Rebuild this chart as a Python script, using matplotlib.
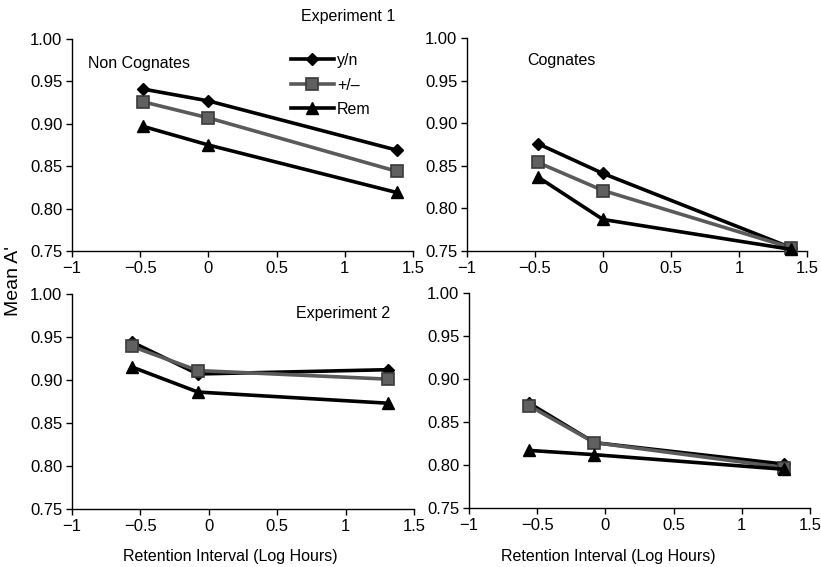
import matplotlib
matplotlib.use("Agg")
import matplotlib.pyplot as plt

plt.rcParams['font.family'] = ['Liberation Sans', 'DejaVu Sans']

# Experiment 1
x_exp1 = [-0.48, 0.0, 1.38]
noncog1_yn = [0.941, 0.927, 0.869]
noncog1_pm = [0.926, 0.907, 0.844]
noncog1_rem = [0.897, 0.875, 0.819]
cog1_yn = [0.876, 0.841, 0.754]
cog1_pm = [0.854, 0.821, 0.754]
cog1_rem = [0.837, 0.787, 0.752]

# Experiment 2
x_exp2 = [-0.56, -0.08, 1.31]
noncog2_yn = [0.944, 0.907, 0.912]
noncog2_pm = [0.939, 0.911, 0.901]
noncog2_rem = [0.915, 0.886, 0.873]
cog2_yn = [0.872, 0.826, 0.801]
cog2_pm = [0.869, 0.826, 0.797]
cog2_rem = [0.817, 0.812, 0.795]

xticks = [-1, -0.5, 0, 0.5, 1, 1.5]
xticklabels = ['\u22121', '\u22120.5', '0', '0.5', '1', '1.5']
yticks = [0.75, 0.80, 0.85, 0.90, 0.95, 1.00]

fig = plt.figure(figsize=(8.21, 5.67), dpi=100)
W, H = 821, 567

def make_ax(l, r, t, b):
    return fig.add_axes([l / W, 1 - b / H, (r - l) / W, (b - t) / H])

ax_tl = make_ax(72, 413, 39, 251)
ax_tr = make_ax(467, 807, 38, 251)
ax_bl = make_ax(72, 414, 294, 509)
ax_br = make_ax(469, 810, 293, 508)

def draw(ax, x, yn, pm, rem):
    ax.plot(x, yn, '-', color='black', lw=2.6, marker='D', ms=6.5,
            mfc='black', mec='black', label='y/n', zorder=3)
    ax.plot(x, pm, '-', color='#5a5a5a', lw=2.6, marker='s', ms=9,
            mfc='#606060', mec='#3a3a3a', mew=1.2, label='+/\u2013', zorder=3)
    ax.plot(x, rem, '-', color='black', lw=2.6, marker='^', ms=8,
            mfc='black', mec='black', label='Rem', zorder=3)
    ax.set_xlim(-1, 1.5)
    ax.set_ylim(0.75, 1.00)
    ax.set_xticks(xticks)
    ax.set_xticklabels(xticklabels)
    ax.set_yticks(yticks)
    ax.set_yticklabels(['%.2f' % v for v in yticks])
    for s in ['top', 'right']:
        ax.spines[s].set_visible(False)
    for s in ['left', 'bottom']:
        ax.spines[s].set_linewidth(1.0)
    ax.tick_params(labelsize=12, length=4, width=1, pad=3)
    for ln in ax.lines:
        ln.set_clip_on(False)

draw(ax_tl, x_exp1, noncog1_yn, noncog1_pm, noncog1_rem)
draw(ax_tr, x_exp1, cog1_yn, cog1_pm, cog1_rem)
draw(ax_bl, x_exp2, noncog2_yn, noncog2_pm, noncog2_rem)
draw(ax_br, x_exp2, cog2_yn, cog2_pm, cog2_rem)

ax_tl.text(-0.88, 0.971, 'Non Cognates', fontsize=11.5, va='center')
ax_tr.text(-0.56, 0.974, 'Cognates', fontsize=11.5, va='center')
ax_bl.text(0.64, 0.977, 'Experiment 2', fontsize=11.5, va='center')

leg = ax_tl.legend(loc='center left', bbox_to_anchor=(0.623, 0.783), frameon=False,
                   fontsize=11.5, handlelength=2.7, labelspacing=0.6,
                   handletextpad=0.2, borderaxespad=0)

fig.text(348 / W, 1 - 17 / H, 'Experiment 1', fontsize=11.5, ha='center', va='center')
fig.text(14 / W, 1 - 281 / H, "Mean A'", fontsize=14, rotation=90, ha='center', va='center')
fig.text(230 / W, 1 - 556 / H, 'Retention Interval (Log Hours)', fontsize=11.5,
         ha='center', va='center')
fig.text(608 / W, 1 - 556 / H, 'Retention Interval (Log Hours)', fontsize=11.5,
         ha='center', va='center')

fig.savefig('out.png', dpi=100)
